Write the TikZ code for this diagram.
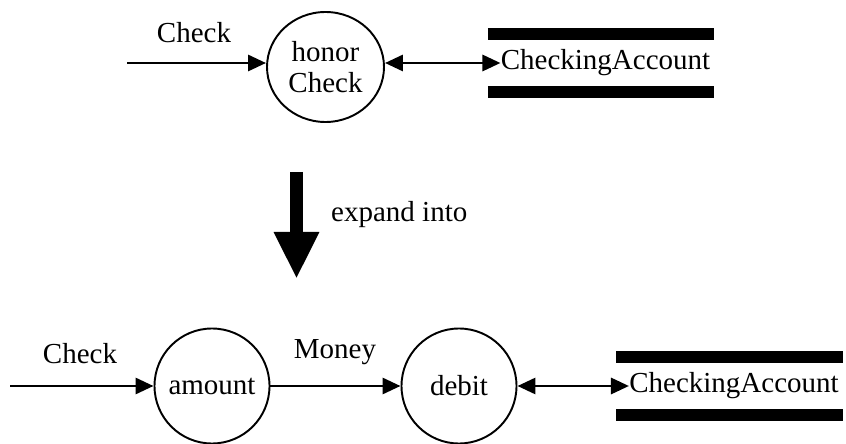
\documentclass[tikz,border=0pt]{standalone}
\usepackage{fontspec}
\setmainfont{Liberation Serif}
\usetikzlibrary{arrows.meta,shapes.geometric}
\newcommand{\dfdfont}{\fontsize{16.5}{18}\selectfont}
\tikzset{
  >={Triangle[length=3.6mm,width=3.2mm]},
  proc/.style={circle, draw, line width=1.1pt, minimum size=2.3cm,
              inner sep=0pt, align=center, font=\dfdfont},
  store/.style={inner xsep=0pt, inner ysep=0pt, minimum height=1.13cm,
              font=\dfdfont},
  lbl/.style={font=\dfdfont},
  flow/.style={->, line width=1.7pt},
  both/.style={<->, line width=1.7pt},
  bar/.style={line width=2.4mm},
  expand/.style={-{Triangle[length=9.4mm,width=8.4mm]}, line width=2.6mm},
}

\begin{document}
\begin{tikzpicture}
        \useasboundingbox (0,0) rectangle (16.92,8.86);
        % before expansion
        \coordinate (inA) at (2.54,7.6);
        \node[proc,ellipse,minimum width=2.34cm,minimum height=2.2cm] (honor) at (6.51,7.52) {honor\\Check};
        \node[store] (acctA) at (12.11,7.6) {CheckingAccount};
        \draw[bar] ([xshift=-2.5mm]acctA.north west) -- ([xshift=0.7mm]acctA.north east);
        \draw[bar] ([xshift=-2.5mm]acctA.south west) -- ([xshift=0.7mm]acctA.south east);
        \draw[flow] (inA) -- (inA -| honor.west);
        \node[lbl] (chkA) at (3.88,8.2) {Check};
        \draw[both] (acctA.west -| honor.east) -- (acctA);
        % expansion
        \coordinate (expTop) at (5.93,5.42);
        \coordinate (expTip) at (5.93,3.28);
        \draw[expand] (expTop) -- (expTip);
        \node[lbl,anchor=west] (expLbl) at (6.5,4.56) {expand into};
        % after expansion
        \coordinate (inB) at (0.2,1.14);
        \node[proc] (amount) at (4.24,1.14) {amount};
        \node[proc] (debit) at (9.18,1.14) {debit};
        \node[store] (acctB) at (14.68,1.14) {CheckingAccount};
        \draw[bar] ([xshift=-2.5mm]acctB.north west) -- ([xshift=0.7mm]acctB.north east);
        \draw[bar] ([xshift=-2.5mm]acctB.south west) -- ([xshift=0.7mm]acctB.south east);
        \draw[flow] (inB) -- (amount);
        \node[lbl] (chkB) at (1.6,1.78) {Check};
        \draw[flow] (amount) -- (debit);
        \node[lbl] (money) at (6.7,1.82) {Money};
        \draw[both] (debit) -- (acctB);
      \end{tikzpicture}
\end{document}
